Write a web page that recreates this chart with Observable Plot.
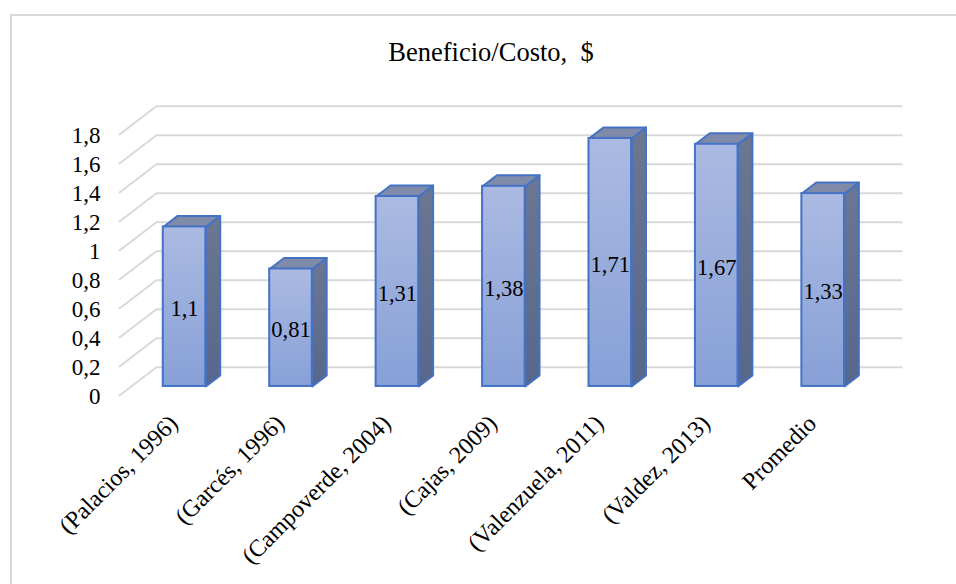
<!DOCTYPE html>
<html>
<head>
<meta charset="utf-8">
<script src="https://cdn.jsdelivr.net/npm/d3@7"></script>
<script src="https://cdn.jsdelivr.net/npm/@observablehq/plot@0.6"></script>
<style>
  html, body { margin: 0; padding: 0; background: #fff; }
  #chart { position: relative; width: 956px; height: 584px; overflow: hidden; }
  #chart svg { display: block; }
</style>
</head>
<body>
<div id="chart"></div>
<script>
const titleText = "Beneficio/Costo,  $";
const categories = ["(Palacios, 1996)", "(Garcés, 1996)", "(Campoverde, 2004)", "(Cajas, 2009)", "(Valenzuela, 2011)", "(Valdez, 2013)", "Promedio"];
const values = [1.1, 0.81, 1.31, 1.38, 1.71, 1.67, 1.33];
const labels = ["1,1", "0,81", "1,31", "1,38", "1,71", "1,67", "1,33"];
const ticks = [0, 0.2, 0.4, 0.6, 0.8, 1, 1.2, 1.4, 1.6, 1.8];

// Oblique projection of the 3D column chart: going one full unit of depth moves
// a point right by depthX category widths and up by depthY value units.
const depthX = 0.347;
const depthY = 0.195;
const project = (cat, value, depth) => ({x: cat + depth * depthX, y: value + depth * depthY});

const barWidth = 0.4;         // share of a category band
const barFront = 0.32;        // depth of the front face
const barBack = 0.71;         // depth of the back face

const bars = values.map((v, i) => {
  const c0 = i + 0.5 - barWidth / 2;
  const c1 = i + 0.5 + barWidth / 2;
  const f0 = project(c0, 0, barFront);
  const f1 = project(c1, v, barFront);
  return {i, v, label: labels[i], x1: f0.x, x2: f1.x, y1: f0.y, y2: f1.y, c0, c1};
});

// Closed outlines for the visible side and top of each column.
const face = (bar, corners) => corners.map(([c, v, d]) => ({bar: bar.i, ...project(c, v, d)}));
const sideFaces = bars.flatMap(b => face(b, [
  [b.c1, 0, barFront], [b.c1, 0, barBack], [b.c1, b.v, barBack], [b.c1, b.v, barFront]
]));
const topFaces = bars.flatMap(b => face(b, [
  [b.c0, b.v, barFront], [b.c1, b.v, barFront], [b.c1, b.v, barBack], [b.c0, b.v, barBack]
]));

// Each gridline runs along the side wall, then across the back wall.
const gridLines = ticks.flatMap(t => [
  {tick: t, ...project(0, t, 0)},
  {tick: t, ...project(0, t, 1)},
  {tick: t, ...project(categories.length, t, 1)}
]);

const gradients = () => {
  const svg = d3.create("svg:g");
  const defs = svg.append("defs");
  const add = (id, top, bottom) => {
    const g = defs.append("linearGradient").attr("id", id)
      .attr("x1", 0).attr("y1", 0).attr("x2", 0).attr("y2", 1);
    g.append("stop").attr("offset", "0%").attr("stop-color", top);
    g.append("stop").attr("offset", "100%").attr("stop-color", bottom);
  };
  add("front-face", "#abbae2", "#87a0d7");
  add("side-face", "#6b7792", "#57668c");
  return svg.node();
};

const serif = "'Liberation Serif', 'Times New Roman', serif";
const frontBase = 395;
const backTop = 105.7;

const plot = Plot.plot({
  width: 956,
  height: 584,
  marginLeft: 119,
  marginRight: 55,
  marginTop: backTop,
  marginBottom: 584 - frontBase,
  style: {fontFamily: serif, background: "transparent"},
  x: {domain: [0, categories.length + depthX], axis: null},
  y: {domain: [0, 1.8 + depthY], axis: null},
  marks: [
    gradients,
    Plot.line(gridLines, {x: "x", y: "y", z: "tick", stroke: "#d9d9d9", strokeWidth: 2}),
    Plot.axisY({
      ticks,
      tickSize: 0,
      tickPadding: 19,
      tickFormat: d => String(d).replace(".", ","),
      fontSize: 23,
      fill: "#000",
      label: null,
      dy: 1
    }),
    Plot.line(sideFaces, {x: "x", y: "y", z: "bar", curve: "linear-closed", fill: "url(#side-face)", stroke: "#4472c4", strokeWidth: 2, strokeLinejoin: "round"}),
    Plot.line(topFaces, {x: "x", y: "y", z: "bar", curve: "linear-closed", fill: "#808aa9", stroke: "#4472c4", strokeWidth: 2, strokeLinejoin: "round"}),
    Plot.rect(bars, {x1: "x1", x2: "x2", y1: "y1", y2: "y2", fill: "url(#front-face)", stroke: "#4472c4", strokeWidth: 2}),
    Plot.text(bars, {
      x: d => (d.x1 + d.x2) / 2,
      y: d => (d.y1 + d.y2) / 2,
      text: "label",
      fontSize: 22.5,
      fill: "#000",
      dy: 2
    }),
    Plot.text(categories, {
      x: (d, i) => i + 0.5,
      y: 0,
      text: d => d,
      rotate: -45,
      textAnchor: "end",
      lineAnchor: "middle",
      fontSize: 24,
      fill: "#000",
      dx: 1,
      dy: 24
    }),
    Plot.text([titleText], {
      frameAnchor: "top",
      text: d => d,
      fontSize: 26.5,
      fill: "#000",
      dx: -19.5,
      dy: -64.3
    })
  ]
});

const chart = document.getElementById("chart");
chart.appendChild(plot);

// Outline of the chart area; its right and bottom edges fall outside the figure.
const outline = document.createElement("div");
outline.style.cssText = "position:absolute;left:10px;top:14px;right:-10px;bottom:-10px;border:2px solid #d9d9d9;pointer-events:none;";
chart.appendChild(outline);
</script>
</body>
</html>
